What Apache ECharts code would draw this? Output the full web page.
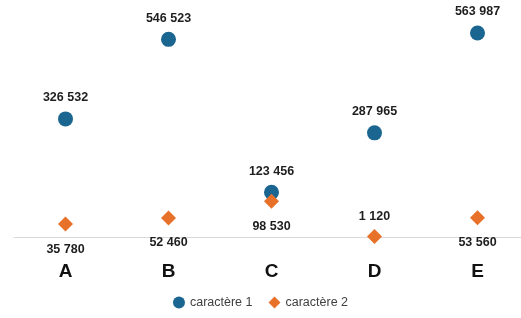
<!DOCTYPE html>
<html><head><meta charset="utf-8">
<script src="https://cdn.jsdelivr.net/npm/echarts@6/dist/echarts.min.js"></script>
<style>html,body{margin:0;padding:0;background:#fff}#c{width:521px;height:318px}</style>
</head><body><div id="c"></div>
<script>
const categories = ['A', 'B', 'C', 'D', 'E'];
const serie1Name = 'caractère 1';
const serie2Name = 'caractère 2';
const serie1 = [326532, 546523, 123456, 287965, 563987];
const serie2 = [35780, 52460, 98530, 1120, 53560];

const fmt = v => String(v).replace(/\B(?=(\d{3})+(?!\d))/g, ' ');
const labelBase = {show: true, fontFamily: 'Liberation Sans, Arial, sans-serif', fontWeight: 'bold', fontSize: 12.5, color: '#1e1e1e', formatter: p => fmt(p.value)};

const chart = echarts.init(document.getElementById('c'), null, {renderer: 'canvas'});
chart.setOption({
  animation: false,
  grid: {left: 14, right: -8, top: 20, bottom: 81, outerBoundsMode: 'none', containLabel: false},
  xAxis: {
    type: 'category', data: categories, boundaryGap: true,
    axisLine: {lineStyle: {color: '#d9d9d9', width: 1}},
    axisTick: {show: false},
    axisLabel: {fontFamily: 'Liberation Sans, Arial, sans-serif', fontWeight: 'bold', fontSize: 19, color: '#111', margin: 25}
  },
  yAxis: {type: 'value', min: 0, max: 600000, show: false, splitLine: {show: false}},
  legend: {
    bottom: 4, left: 'center', itemGap: 16, itemWidth: 12, itemHeight: 12,
    textStyle: {fontFamily: 'Liberation Sans, Arial, sans-serif', fontSize: 12.5, color: '#404040'},
    data: [{name: serie1Name, icon: 'circle'}, {name: serie2Name, icon: 'diamond'}]
  },
  series: [
    {name: serie1Name, type: 'scatter', symbol: 'circle', symbolSize: 15,
     itemStyle: {color: '#1b6690', opacity: 1},
     label: Object.assign({}, labelBase, {position: 'top', distance: 7}),
     data: serie1},
    {name: serie2Name, type: 'scatter', symbol: 'diamond', symbolSize: 15,
     itemStyle: {color: '#e8712a', opacity: 1},
     label: Object.assign({}, labelBase, {position: 'bottom', distance: 11}),
     data: serie2.map((v, i) => i === 3 ? {value: v, label: {position: 'top', distance: 6}} : v)}
  ]
});
</script></body></html>
